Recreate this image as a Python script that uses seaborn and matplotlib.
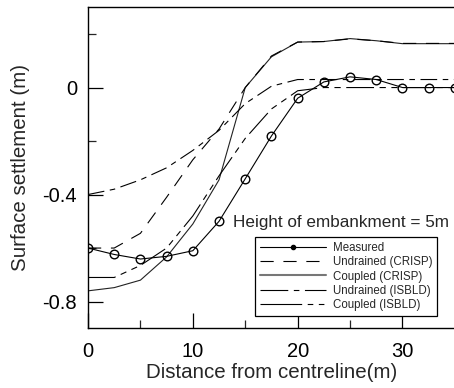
import matplotlib
matplotlib.use("Agg")
import matplotlib.pyplot as plt
from matplotlib.lines import Line2D
import pandas as pd
import seaborn as sns

# Distance from the embankment centreline (m)
distance = [0, 2.5, 5, 7.5, 10, 12.5, 15, 17.5, 20, 22.5, 25, 27.5, 30, 32.5, 35]

# Surface settlement (m), negative = settlement, positive = heave
measured        = [-0.60, -0.624, -0.641, -0.631, -0.61, -0.50, -0.341, -0.181, -0.04, 0.021, 0.04, 0.03, 0.0, 0.0, 0.0]
undrained_crisp = [-0.60, -0.60, -0.545, -0.41, -0.27, -0.155, 0.0, 0.118, 0.17, 0.172, 0.182, 0.175, 0.165, 0.165, 0.165]
coupled_crisp   = [-0.76, -0.748, -0.72, -0.633, -0.51, -0.345, 0.0, 0.115, 0.17, 0.172, 0.183, 0.175, 0.164, 0.164, 0.164]
undrained_isbld = [-0.40, -0.38, -0.345, -0.30, -0.235, -0.16, -0.06, 0.005, 0.03, 0.03, 0.03, 0.03, 0.03, 0.03, 0.03]
coupled_isbld   = [-0.71, -0.71, -0.665, -0.60, -0.48, -0.33, -0.19, -0.08, -0.012, 0.0, 0.0, 0.0, 0.0, 0.0, 0.0]

labels = ["Measured", "Undrained (CRISP)", "Coupled (CRISP)",
          "Undrained (ISBLD)", "Coupled (ISBLD)"]

x_ticks = [0, 10, 20, 30]
y_ticks = [-0.8, -0.4, 0.0]
y_ticklabels = ["-0.8", "-0.4", "0"]

sns.set_theme(style="ticks")
plt.rcParams["font.family"] = ["Liberation Sans", "DejaVu Sans"]
plt.rcParams["lines.scale_dashes"] = False

fig = plt.figure(figsize=(4.54, 3.88), dpi=100)
ax = fig.add_axes([88 / 454, 1 - 328.3 / 388, 1 - 88 / 454 + 0.002, (328.3 - 7.3) / 388])

df = pd.DataFrame({
    "distance": distance * 5,
    "settlement": measured + undrained_crisp + coupled_crisp + undrained_isbld + coupled_isbld,
    "series": sum([[lab] * len(distance) for lab in labels], []),
})

# dash patterns in points: (on, off, ...)
styles = {
    "Measured":          dict(color="black", lw=0.8, dashes=None),
    "Undrained (CRISP)": dict(color="black", lw=0.8, dashes=(9.5, 7.0)),
    "Coupled (CRISP)":   dict(color="#222222", lw=0.8, dashes=None),
    "Undrained (ISBLD)": dict(color="black", lw=0.8, dashes=(12.0, 4.0, 4.0, 4.0)),
    "Coupled (ISBLD)":   dict(color="black", lw=0.8, dashes=(20.0, 4.0, 4.5, 4.0, 4.5, 4.0)),
}

draw_order = ["Coupled (CRISP)", "Undrained (CRISP)", "Undrained (ISBLD)",
              "Coupled (ISBLD)", "Measured"]
for lab in draw_order:
    sub = df[df["series"] == lab]
    st = styles[lab]
    sns.lineplot(data=sub, x="distance", y="settlement", ax=ax, color=st["color"],
                 linewidth=st["lw"], estimator=None, sort=False, legend=False)
    line = ax.lines[-1]
    if st["dashes"] is not None:
        line.set_dashes(st["dashes"])
    if lab == "Measured":
        line.set_marker("o")
        line.set_markersize(6.2)
        line.set_markerfacecolor("none")
        line.set_markeredgecolor("black")
        line.set_markeredgewidth(1.0)
        line.set_zorder(5)

ax.set_xlim(0, 35)
ax.set_ylim(-0.9, 0.3)

ax.set_xticks(x_ticks)
ax.set_xticks([5, 15, 25, 35], minor=True)
ax.set_yticks(y_ticks)
ax.set_yticklabels(y_ticklabels)
ax.set_yticks([-0.6, -0.2, 0.2], minor=True)
ax.tick_params(axis="both", which="major", direction="in", length=10.5, width=0.9,
               labelsize=14.5, colors="black")
ax.tick_params(axis="both", which="minor", direction="in", length=5.5, width=0.9)
ax.tick_params(axis="x", which="major", pad=10)
ax.tick_params(axis="y", which="major", pad=8)

for side in ["left", "bottom", "top"]:
    ax.spines[side].set_visible(True)
    ax.spines[side].set_linewidth(1.0)
    ax.spines[side].set_color("black")
ax.spines["right"].set_visible(False)

ax.set_xlabel("Distance from centreline(m)", fontsize=14.8, labelpad=1)
ax.set_ylabel("Surface settlement (m)", fontsize=14.8, labelpad=9)

ax.text(13.8, -0.505, "Height of embankment = 5m", fontsize=12.3, va="center", ha="left")

handles = [
    Line2D([], [], color="black", lw=0.8, marker="o", markersize=3,
           markerfacecolor="black"),
    Line2D([], [], color="black", lw=0.8, dashes=styles["Undrained (CRISP)"]["dashes"]),
    Line2D([], [], color="#777777", lw=1.5),
    Line2D([], [], color="black", lw=0.8, dashes=(20.0, 4.0, 4.0, 4.0)),
    Line2D([], [], color="black", lw=0.8, dashes=(30.0, 4.0, 4.0, 4.0, 4.0, 4.0)),
]
leg = ax.legend(handles, labels, loc="upper left", bbox_to_anchor=(0.456, 0.2835),
                fontsize=8.3, frameon=True, fancybox=False, shadow=False,
                handlelength=5.7, handletextpad=0.65, labelspacing=0.2,
                borderpad=0.4, borderaxespad=0)
leg.get_frame().set_edgecolor("black")
leg.get_frame().set_linewidth(0.9)
leg.get_frame().set_alpha(1)

fig.savefig("out.png", dpi=100)
